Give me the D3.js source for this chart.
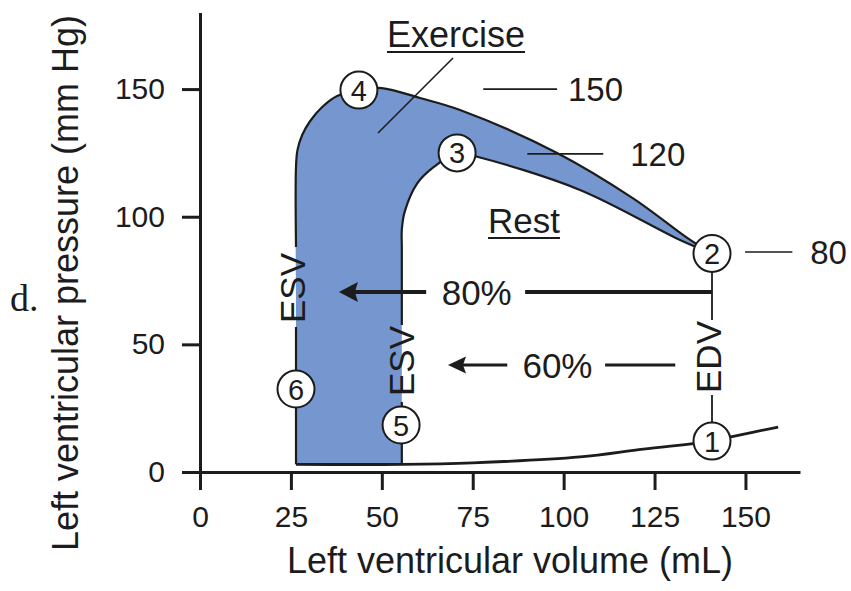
<!DOCTYPE html>
<html><head><meta charset="utf-8">
<script src="https://cdn.jsdelivr.net/npm/d3@7"></script>
<style>
body{margin:0;background:#fff}
svg{display:block}
text{font-family:"Liberation Sans",Arial,Helvetica,sans-serif;fill:#1c1c1c}
</style>
</head><body>
<svg id="chart" width="851" height="591"></svg>
<script>
// ---- data (volume in mL, pressure in mm Hg) ----
const xTicks = [0, 25, 50, 75, 100, 125, 150];
const yTicks = [0, 50, 100, 150];
const exerciseLoop = [[26.4,3],[26.4,60],[26.4,119.5],[26.8,126.1],[28.1,132],[30.3,137.5],[33.6,143],[37.7,147.3],[43.7,149.6],[50,150.4],[60.5,146.5],[71.5,141.8],[98.2,125],[119,107.3],[134.8,90.9],[140.8,85.6]];
const restLoop = [[140.8,85.6],[132,90.9],[104.5,110.5],[76.5,123.4],[70.7,125],[64.3,119.5],[59.7,113],[56.3,102],[55.5,95],[55.5,88],[55.5,3]];
const fillingCurve = [[26.4,3],[55.5,3],[75,3.6],[104.5,5.9],[121.9,9],[140.8,12.1],[146,13.8],[159,17.6]];
const pointLabels = ["1","2","3","4","5","6"];
const pointVolume = [140.8,140.8,70.7,43.7,55.3,26.4];
const pointPressure = [12.1,85.6,125,149.6,18.4,32.5];
const pressureNotes = ["150","120","80"];
const pressureNoteLevel = [150,124.6,86.2];
const ejectionLabels = ["80%","60%"];
const ejectionLevel = [70.5,41.9];
const esvExercise = 26.4, esvRest = 55.5, edv = 140.8;
const xTitle = "Left ventricular volume (mL)";
const yTitle = "Left ventricular pressure (mm Hg)";

// ---- scales ----
const svg = d3.select("#chart");
const x = d3.scaleLinear().domain([0,165]).range([200,800]);
const y = d3.scaleLinear().domain([0,180]).range([472,12.5]);
const blue = "#7596cf";
const ink = "#1c1c1c";

const curve = d3.line().x(d=>x(d[0])).y(d=>y(d[1])).curve(d3.curveCatmullRom.alpha(0.5));
const straight = d3.line().x(d=>x(d[0])).y(d=>y(d[1]));
const pv = py => y.invert(py); // pixel y -> pressure

// blue exercise-only area
svg.append("path")
  .attr("d", curve(exerciseLoop) + curve(restLoop).replace(/^M/,"L") + "Z")
  .attr("fill", blue).attr("stroke","none");

// outlines (broken where labels sit)
const strokes = [
  {d: curve([[esvExercise,pv(247)]].concat(exerciseLoop.slice(2))), w:2.2},
  {d: straight([[esvExercise,3],[esvExercise,pv(327)]]), w:2.2},
  {d: curve(restLoop.slice(0,-1).concat([[esvRest,pv(325)]])), w:2.2},
  {d: straight([[esvRest,pv(402)],[esvRest,3]]), w:2.2},
  {d: curve(fillingCurve), w:2.8},
  {d: straight([[edv,85.6],[edv,pv(320)]]), w:1.8},
  {d: straight([[edv,pv(395)],[edv,12.1]]), w:1.8}
];
svg.append("g").selectAll("path").data(strokes).join("path")
  .attr("d", d=>d.d).attr("fill","none").attr("stroke",ink)
  .attr("stroke-width", d=>d.w).attr("stroke-linejoin","round");

// ---- axes ----
const xAxis = svg.append("g").attr("transform","translate(0,472)")
  .call(d3.axisBottom(x).tickValues(xTicks).tickSize(18).tickSizeOuter(0).tickPadding(16));
const yAxis = svg.append("g").attr("transform","translate(200,0)")
  .call(d3.axisLeft(y).tickValues(yTicks).tickSize(18).tickSizeOuter(0).tickPadding(17));
[xAxis,yAxis].forEach(a=>{
  a.attr("font-family",null).attr("font-size",null);
  a.selectAll("path,line").attr("stroke",ink).attr("stroke-width",3);
  a.selectAll("text").attr("fill",ink).style("font-size","30px");
});

// axis titles
svg.append("text").attr("x",510).attr("y",573).attr("text-anchor","middle")
  .style("font-size","36px").text(xTitle);
svg.append("text").attr("transform","translate(78,283) rotate(-90)").attr("text-anchor","middle")
  .style("font-size","36px").text(yTitle);

// panel letter
svg.append("text").attr("x",10).attr("y",311)
  .style("font-family",'"Liberation Serif","Times New Roman",serif').style("font-size","38px").text("d.");

// ---- loop labels ----
function underlined(txt, cx, base, size){
  const t = svg.append("text").attr("x",cx).attr("y",base).attr("text-anchor","middle")
    .style("font-size",size+"px").text(txt);
  const w = t.node().getComputedTextLength();
  svg.append("line").attr("x1",cx-w/2).attr("x2",cx+w/2).attr("y1",base+5).attr("y2",base+5)
    .attr("stroke",ink).attr("stroke-width",2);
}
underlined("Exercise", 456, 47, 36);
underlined("Rest", 524, 233, 35);
svg.append("line").attr("x1",453).attr("y1",58).attr("x2",378).attr("y2",133)
  .attr("stroke",ink).attr("stroke-width",1.6);

// pressure notes
const noteLine = [[77.9,98.2],[90,110.9],[149.9,162.9]];
const noteText = [101.2,118.3,167.8];
pressureNotes.forEach((s,i)=>{
  svg.append("line").attr("x1",x(noteLine[i][0])).attr("x2",x(noteLine[i][1]))
    .attr("y1",y(pressureNoteLevel[i])).attr("y2",y(pressureNoteLevel[i]))
    .attr("stroke",ink).attr("stroke-width",1.6);
  svg.append("text").attr("x",x(noteText[i])).attr("y",y(pressureNoteLevel[i])+12)
    .style("font-size","33px").text(s);
});

// ejection-fraction arrows
const arrowTip = [38.2,68.2], shaftEnd = [62.2,84.5], labelAt = [76.1,98.3], tailStart = [89.4,111.4], tailEnd = [edv,130.7];
const arrowW = [4,3], headL = [19,18], headH = [10,8.5];
ejectionLabels.forEach((s,i)=>{
  const yy = y(ejectionLevel[i]);
  const tx = x(arrowTip[i]);
  svg.append("path").attr("d",`M${tx},${yy}L${tx+headL[i]},${yy-headH[i]}L${tx+headL[i]-3},${yy}L${tx+headL[i]},${yy+headH[i]}Z`).attr("fill",ink);
  svg.append("line").attr("x1",tx+headL[i]-4).attr("x2",x(shaftEnd[i])).attr("y1",yy).attr("y2",yy)
    .attr("stroke",ink).attr("stroke-width",arrowW[i]);
  svg.append("line").attr("x1",x(tailStart[i])).attr("x2",x(tailEnd[i])).attr("y1",yy).attr("y2",yy)
    .attr("stroke",ink).attr("stroke-width",arrowW[i]);
  svg.append("text").attr("x",x(labelAt[i])).attr("y",yy+13).attr("text-anchor","middle")
    .style("font-size","35px").text(s);
});

// vertical volume labels
[["ESV",305,288],["ESV",414,361],["EDV",721,357]].forEach(([s,px,py])=>{
  svg.append("text").attr("transform",`translate(${px},${py}) rotate(-90)`).attr("text-anchor","middle")
    .style("font-size","35px").text(s);
});

// numbered points
const pts = svg.append("g").selectAll("g").data(pointLabels).join("g")
  .attr("transform",(d,i)=>`translate(${x(pointVolume[i])},${y(pointPressure[i])})`);
pts.append("circle").attr("r",18.5).attr("fill","#fff").attr("stroke",ink).attr("stroke-width",2);
pts.append("text").attr("text-anchor","middle").attr("y",10.5).style("font-size","29px").text(d=>d);
</script>
</body></html>
